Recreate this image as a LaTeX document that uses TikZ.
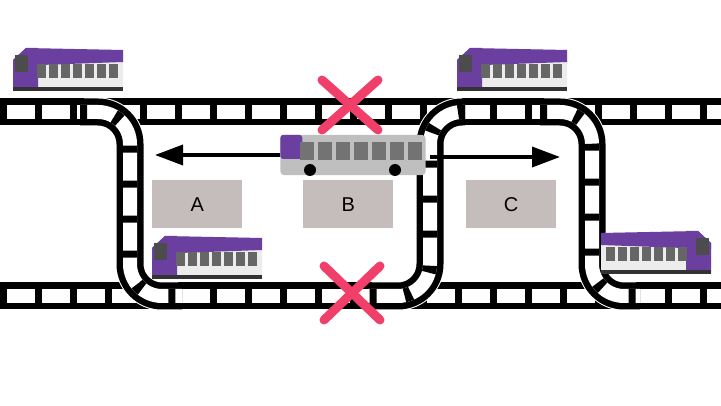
\documentclass[tikz,border=0pt]{standalone}
\usepackage{fontspec}
\setmainfont{Liberation Sans}
\usetikzlibrary{arrows.meta}
\definecolor{xred}{HTML}{F0406A}
\definecolor{boxgrey}{HTML}{C4BDBB}
\definecolor{tramviolet}{HTML}{6A3FA0}
\tikzset{
  rail/.style={line width=27pt,black},
  railedge/.style={line width=29pt,white,shorten <=4pt,shorten >=4pt},
  railgap/.style={line width=14pt,white},
  ties/.style={line width=14pt,black,dash pattern=on 7pt off 28pt},
  label box/.style={fill=boxgrey,minimum width=90pt,minimum height=48pt,font=\fontsize{20}{20}\selectfont},
  cross/.style={xred,line width=9pt,line cap=round},
  push/.style={line width=3.5pt,-{Triangle[length=28pt,width=20pt]}}
}
% one track: rails, gap, ties
\newcommand{\track}[1]{%
  \draw[rail] #1; \draw[railgap] #1; \draw[ties] #1;}
% a link track, with a thin white edge
\newcommand{\linktrack}[1]{%
  \draw[railedge] #1; \track{#1}}
% a tram seen from the side, facing right at (x,y)
\newcommand{\tram}[2]{%
  \begin{scope}[shift={#1},xscale=#2]
    \fill[white!85!gray,rounded corners=3pt] (-55,-20) -- (42,-22) -- (55,-10) -- (55,20) -- (-55,20) -- cycle;
    \fill[tramviolet] (-55,-20) -- (42,-22) -- (55,-10) -- (55,-4) -- (-55,-8) -- cycle;
    \fill[tramviolet] (30,-22) -- (42,-22) -- (55,-10) -- (55,20) -- (30,20) -- cycle;
    \fill[black!70] (40,-15) rectangle (53,2);
    \foreach \w in {-50,-38,...,22} \fill[black!60] (\w,-6) rectangle (\w+9,8);
    \fill[black!80] (-55,17) rectangle (55,21);
  \end{scope}}
\begin{document}
\begin{tikzpicture}[x=1pt,y=-1pt]
\useasboundingbox (0,0) rectangle (721,406);
% main lines
\track{(0,112) -- (721,112)}
\track{(0,296) -- (721,296)}
% links between the lines
\linktrack{[rounded corners=32pt] (80,112) -- (130,112) -- (130,296) -- (182,296)}
\linktrack{[rounded corners=32pt] (465,112) -- (430,112) -- (430,296) -- (368,296)}
\linktrack{[rounded corners=32pt] (540,112) -- (592,112) -- (592,296) -- (640,296)}
\foreach \p/\l in {{(152,180)}/A,{(303,180)}/B,{(466,180)}/C}
  \node[label box,anchor=north west] (box\l) at \p {\l};
% trams
\tram{(68,70)}{-1}
\tram{(512,70)}{-1}
\tram{(207,258)}{-1}
\tram{(656,253)}{1}
% bus
\node[minimum width=145pt,minimum height=40pt,inner sep=0pt] (bus) at (353,155) {};
\fill[black!25,rounded corners=4pt] (bus.north west) rectangle (bus.south east);
\fill[tramviolet,rounded corners=3pt] (bus.north west) rectangle ([xshift=22pt,yshift=-4pt]bus.west);
\foreach \w in {300,318,...,408} \fill[black!55] (\w,142) rectangle (\w+14,160);
\fill[black] (310,170) circle (6) (395,170) circle (6);
\coordinate (leftend) at (155,155);
\coordinate (rightend) at (560,157);
\draw[push] (bus.west) -- (leftend);
\draw[push] ([xshift=4pt]bus.east |- rightend) -- (rightend);
% blocked
\draw[cross] (322,80) -- (378,130) (378,80) -- (322,130);
\draw[cross] (324,266) -- (380,320) (380,266) -- (324,320);
\end{tikzpicture}
\end{document}
